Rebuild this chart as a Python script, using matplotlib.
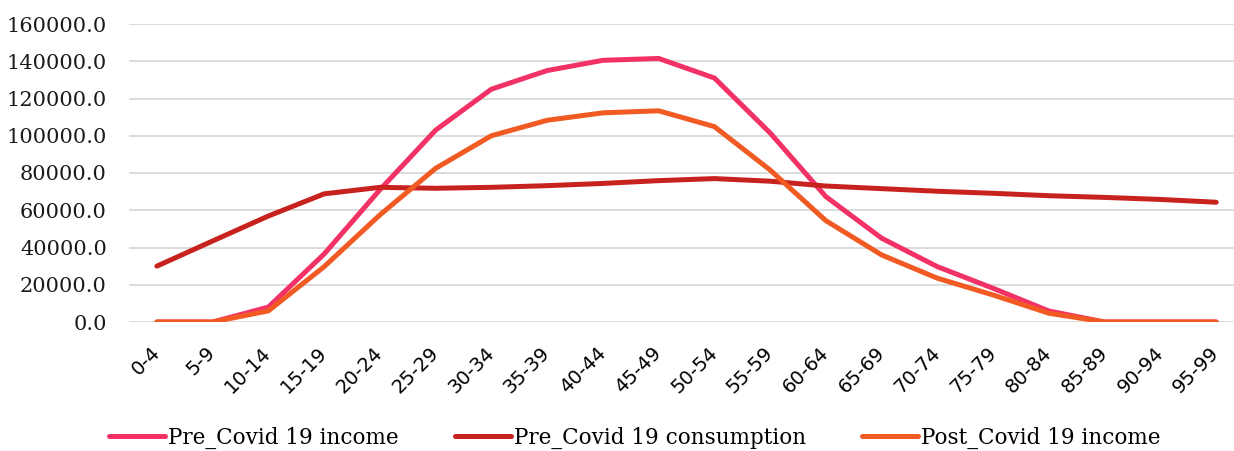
import matplotlib
matplotlib.use("Agg")
import matplotlib.pyplot as plt
from matplotlib.ticker import FuncFormatter, MultipleLocator

categories = ["0-4", "5-9", "10-14", "15-19", "20-24", "25-29", "30-34", "35-39",
              "40-44", "45-49", "50-54", "55-59", "60-64", "65-69", "70-74",
              "75-79", "80-84", "85-89", "90-94", "95-99"]
pre_income = [0, 0, 8000, 36500, 71000, 103000, 125000, 135000, 140500, 141500,
              131000, 101500, 67300, 45000, 29700, 18100, 5900, 0, 0, 0]
pre_consumption = [30000, 43500, 56900, 68800, 72300, 71800, 72300, 73200, 74400, 75900,
                   77000, 75600, 73000, 71600, 70200, 69100, 67800, 66900, 65800, 64300]
post_income = [0, 0, 6000, 29700, 57500, 82500, 100000, 108300, 112300, 113400,
               104900, 81600, 54400, 36000, 23500, 14500, 4700, 0, 0, 0]
series_names = ["Pre_Covid 19 income", "Pre_Covid 19 consumption", "Post_Covid 19 income"]
colors = ["#F23266", "#C8221E", "#F15A22"]

W, H = 1234, 451
fig = plt.figure(figsize=(W / 100, H / 100), dpi=100)
ax = fig.add_axes([129 / W, 129 / H, (W - 129) / W, 298 / H])

x = list(range(len(categories)))
for vals, name, c in zip([pre_income, pre_consumption, post_income], series_names, colors):
    ax.plot(x, vals, color=c, lw=3.6, label=name, solid_capstyle="round",
            solid_joinstyle="round", zorder=3)

ax.set_ylim(0, 160000)
ax.set_xlim(-0.5, 19.32)
ax.yaxis.set_major_locator(MultipleLocator(20000))
ax.yaxis.set_major_formatter(FuncFormatter(lambda v, p: f"{v:.1f}"))
ax.grid(axis="y", color="#D9D9D9", lw=1.3, zorder=0)
ax.set_axisbelow(True)
for s in ax.spines.values():
    s.set_visible(False)
ax.set_xticks(x)
ax.set_xticklabels(categories, rotation=45, ha="right", va="center",
                   rotation_mode="anchor", fontsize=14, family="DejaVu Sans")
ax.tick_params(axis="x", length=0, pad=20)
ax.tick_params(axis="y", length=0, pad=16)
for lab in ax.get_yticklabels():
    lab.set_fontfamily("DejaVu Serif")
    lab.set_fontsize(15)
    lab.set_color("#1a1a1a")

fig.legend(loc="center", bbox_to_anchor=(635 / W, 1 - 438 / H), ncol=3, frameon=False,
           prop={"family": "DejaVu Serif", "size": 15.5}, handlelength=2.6,
           handletextpad=0.15, columnspacing=2.6)

fig.savefig("out.png", dpi=100)
